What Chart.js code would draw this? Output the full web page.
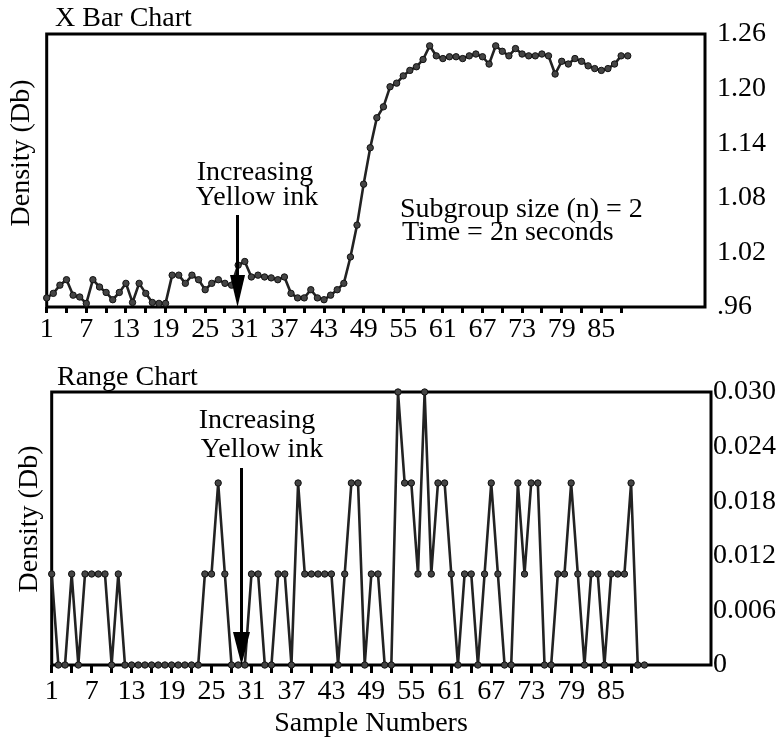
<!DOCTYPE html>
<html>
<head>
<meta charset="utf-8">
<script src="https://cdn.jsdelivr.net/npm/chart.js@4.4.0/dist/chart.umd.min.js"></script>
<style>
  body { margin: 0; background: #fff; }
  .wrap { position: absolute; left: 0; top: 0; width: 784px; height: 744px; }
</style>
</head>
<body>
<div class="wrap"><canvas id="xbarChart" width="784" height="744"></canvas></div>
<div class="wrap"><canvas id="rangeChart" width="784" height="744"></canvas></div>
<script>
// X bar values, samples 1..89
const xBar = [
  0.970, 0.975, 0.984, 0.990, 0.973, 0.971, 0.964, 0.990, 0.982, 0.976,
  0.968, 0.976, 0.986, 0.965, 0.986, 0.975, 0.965, 0.964, 0.964, 0.995,
  0.995, 0.986, 0.995, 0.990, 0.979, 0.986, 0.990, 0.986, 0.984, 1.006,
  1.010, 0.993, 0.995, 0.993, 0.992, 0.990, 0.993, 0.975, 0.970, 0.970,
  0.979, 0.970, 0.968, 0.973, 0.979, 0.986, 1.015, 1.050, 1.095, 1.135,
  1.168, 1.180, 1.202, 1.206, 1.214, 1.220, 1.224, 1.232, 1.247, 1.236,
  1.233, 1.235, 1.235, 1.233, 1.236, 1.238, 1.235, 1.227, 1.247, 1.241,
  1.236, 1.244, 1.238, 1.236, 1.236, 1.238, 1.236, 1.216, 1.230, 1.227,
  1.233, 1.230, 1.225, 1.222, 1.220, 1.222, 1.227, 1.236, 1.236
];

// Range values, samples 1..90
const range = [
  0.01, 0, 0, 0.01, 0, 0.01, 0.01, 0.01, 0.01, 0,
  0.01, 0, 0, 0, 0, 0, 0, 0, 0, 0,
  0, 0, 0, 0.01, 0.01, 0.02, 0.01, 0, 0, 0,
  0.01, 0.01, 0, 0, 0.01, 0.01, 0, 0.02, 0.01, 0.01,
  0.01, 0.01, 0.01, 0, 0.01, 0.02, 0.02, 0, 0.01, 0.01,
  0, 0, 0.03, 0.02, 0.02, 0.01, 0.03, 0.01, 0.02, 0.02,
  0.01, 0, 0.01, 0.01, 0, 0.01, 0.02, 0.01, 0, 0,
  0.02, 0.01, 0.02, 0.02, 0, 0, 0.01, 0.01, 0.02, 0.01,
  0, 0.01, 0.01, 0, 0.01, 0.01, 0.01, 0.02, 0, 0
];

const xTickMarks = [1, 4, 7, 10, 13, 16, 19, 22, 25, 28, 31, 34, 37, 40, 43, 46, 49, 52, 55, 58, 61, 64, 67, 70, 73, 76, 79, 82, 85, 88];
const xTickLabels = [1, 7, 13, 19, 25, 31, 37, 43, 49, 55, 61, 67, 73, 79, 85];

const xBarTicks = [0.96, 1.02, 1.08, 1.14, 1.20, 1.26];
const xBarTickLabels = ['.96', '1.02', '1.08', '1.14', '1.20', '1.26'];

const rangeTicks = [0, 0.006, 0.012, 0.018, 0.024, 0.030];
const rangeTickLabels = ['0', '0.006', '0.012', '0.018', '0.024', '0.030'];

const W = 784, H = 744;
const SERIF = '"Liberation Serif", "Times New Roman", serif';
const FS = 28;
Chart.defaults.font.family = SERIF;
Chart.defaults.color = '#000';

// box around the plot, titles, notes and the arrow
const decor = {
  id: 'decor',
  beforeDatasetsDraw(chart) {
    const { ctx, chartArea: a } = chart;
    ctx.save();
    ctx.strokeStyle = '#000';
    ctx.lineWidth = 3;
    ctx.strokeRect(a.left, a.top, a.right - a.left, a.bottom - a.top);
    ctx.restore();
  },
  afterDraw(chart, args, o) {
    const { ctx, chartArea: a } = chart;
    ctx.save();
    ctx.fillStyle = '#000';
    ctx.strokeStyle = '#000';
    ctx.font = FS + 'px ' + SERIF;
    ctx.textAlign = 'left';
    ctx.fillText(o.title, o.titleX, o.titleY);

    ctx.save();
    ctx.translate(o.yTitleX, o.yTitleY);
    ctx.rotate(-Math.PI / 2);
    ctx.textAlign = 'center';
    ctx.textBaseline = 'middle';
    ctx.fillText('Density (Db)', 0, 0);
    ctx.restore();

    if (o.xTitle) {
      ctx.textAlign = 'center';
      ctx.fillText(o.xTitle, o.xTitleX, o.xTitleY);
    }

    o.notes.forEach(n => {
      ctx.textAlign = n.align;
      ctx.fillText(n.text, n.x, n.y);
    });

    // arrow pointing at the sample where yellow ink starts
    const ax = chart.scales.x.getPixelForValue(o.arrowAt);
    ctx.lineWidth = 3;
    ctx.beginPath();
    ctx.moveTo(ax, o.arrowTop);
    ctx.lineTo(ax, o.headTop);
    ctx.stroke();
    ctx.beginPath();
    ctx.moveTo(ax - o.headHalf, o.headTop);
    ctx.lineTo(ax + o.headHalf, o.headTop);
    ctx.lineTo(ax, a.bottom);
    ctx.closePath();
    ctx.fill();
    ctx.restore();
  }
};

function xScale(bottom, max, tickLen, pad) {
  return {
    type: 'linear',
    min: 1,
    max: max,
    afterFit(s) { s.height = H - bottom; },
    afterBuildTicks(s) { s.ticks = xTickMarks.map(v => ({ value: v })); },
    border: { display: false },
    grid: { drawOnChartArea: false, drawTicks: true, tickLength: tickLen, tickWidth: 3, color: '#000' },
    ticks: {
      autoSkip: false,
      maxRotation: 0,
      padding: pad,
      font: { size: FS },
      callback: v => (xTickLabels.includes(v) ? String(v) : '')
    }
  };
}

function lineSet(values) {
  return {
    data: values.map((v, i) => ({ x: i + 1, y: v })),
    borderColor: '#222',
    borderWidth: 2.6,
    pointRadius: 3.2,
    pointBackgroundColor: '#444',
    pointBorderColor: '#111',
    pointBorderWidth: 1,
    tension: 0,
    clip: false
  };
}

new Chart(document.getElementById('xbarChart'), {
  type: 'line',
  data: { datasets: [lineSet(xBar)] },
  options: {
    responsive: false,
    animation: false,
    layout: { padding: { left: 46.7, top: 34, right: 0, bottom: 0 } },
    scales: {
      x: xScale(307, 100.7, 6, 0),
      y: {
        position: 'right',
        min: 0.96,
        max: 1.26,
        afterFit(s) { s.width = W - 705; },
        afterBuildTicks(s) { s.ticks = xBarTicks.map(v => ({ value: v })); },
        border: { display: false },
        grid: { display: false, drawTicks: false },
        ticks: { padding: 12, font: { size: FS }, callback: (v, i) => xBarTickLabels[i] }
      }
    },
    plugins: {
      legend: { display: false },
      tooltip: { enabled: false },
      decor: {
        title: 'X Bar Chart', titleX: 55, titleY: 26,
        yTitleX: 22, yTitleY: 153,
        notes: [
          { text: 'Increasing', x: 255, y: 180, align: 'center' },
          { text: 'Yellow ink', x: 257, y: 205, align: 'center' },
          { text: 'Subgroup size (n) = 2', x: 400, y: 217, align: 'left' },
          { text: 'Time = 2n seconds', x: 402, y: 240, align: 'left' }
        ],
        arrowAt: 29.9, arrowTop: 215, headTop: 275, headHalf: 7.5
      }
    }
  },
  plugins: [decor]
});

new Chart(document.getElementById('rangeChart'), {
  type: 'line',
  data: { datasets: [lineSet(range)] },
  options: {
    responsive: false,
    animation: false,
    layout: { padding: { left: 51.7, top: 392, right: 0, bottom: 0 } },
    scales: {
      x: xScale(665, 100, 8, 2),
      y: {
        position: 'right',
        min: 0,
        max: 0.03,
        afterFit(s) { s.width = W - 711; },
        afterBuildTicks(s) { s.ticks = rangeTicks.map(v => ({ value: v })); },
        border: { display: false },
        grid: { display: false, drawTicks: false },
        ticks: { padding: 2, font: { size: FS }, callback: (v, i) => rangeTickLabels[i] }
      }
    },
    plugins: {
      legend: { display: false },
      tooltip: { enabled: false },
      decor: {
        title: 'Range Chart', titleX: 57, titleY: 385,
        yTitleX: 30, yTitleY: 519,
        xTitle: 'Sample Numbers', xTitleX: 371, xTitleY: 731,
        notes: [
          { text: 'Increasing', x: 257, y: 428, align: 'center' },
          { text: 'Yellow ink', x: 262, y: 457, align: 'center' }
        ],
        arrowAt: 29.5, arrowTop: 468, headTop: 632, headHalf: 8.5
      }
    }
  },
  plugins: [decor]
});
</script>
</body>
</html>
